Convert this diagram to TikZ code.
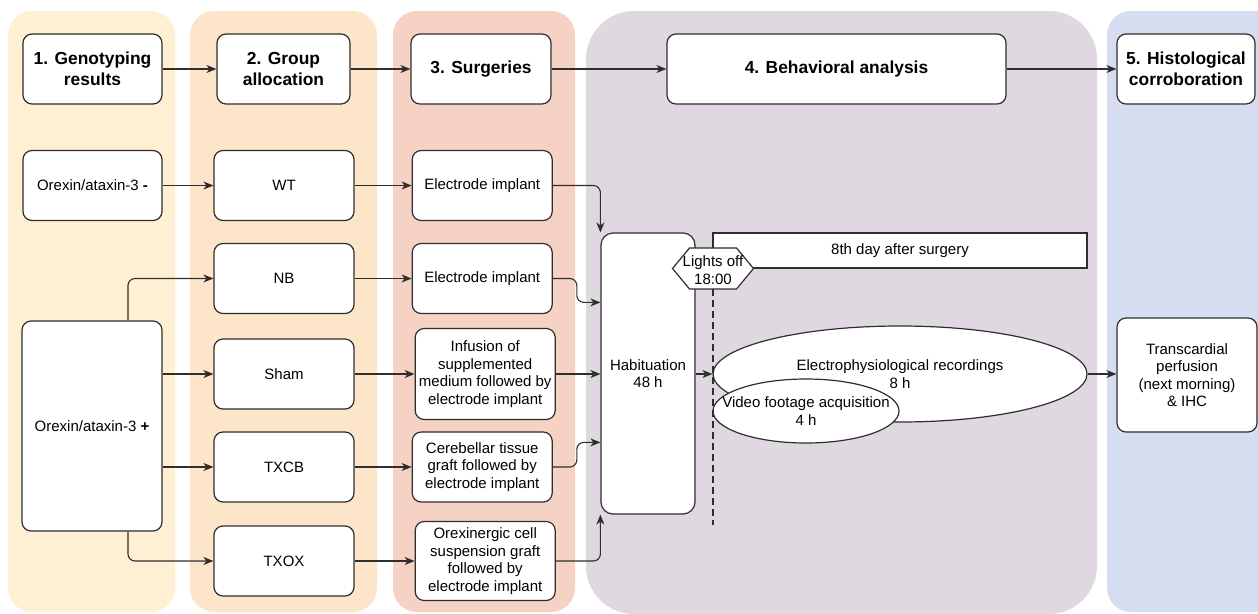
\documentclass[tikz,border=0pt]{standalone}
\usepackage{fontspec}
\setmainfont{Liberation Sans}
\usepackage{tikz}
\usetikzlibrary{shapes.geometric, arrows.meta, positioning, calc}

\definecolor{laneyellow}{HTML}{FFF0D4}
\definecolor{laneorange}{HTML}{FDE5CA}
\definecolor{lanered}{HTML}{F5D2C4}
\definecolor{lanepurple}{HTML}{E0D8E1}
\definecolor{laneblue}{HTML}{D6DDF0}
\definecolor{edgegray}{HTML}{2E2E2E}

\newcommand{\bodyfont}{\fontsize{15pt}{17.5pt}\selectfont}
\newcommand{\headfont}{\fontsize{17.4pt}{21pt}\selectfont\bfseries}

\begin{document}
\begin{tikzpicture}[
  x=1pt, y=-1pt,
  lane/.style={rounded corners=24pt},
  head/.style={draw=edgegray,line width=1.2pt,rounded corners=9pt,fill=white,align=center,font=\headfont,minimum width=140pt,minimum height=70pt,inner sep=2pt},
  block/.style={draw=edgegray,line width=1.2pt,rounded corners=9pt,fill=white,align=center,font=\bodyfont,minimum width=140pt,minimum height=70pt,inner sep=2pt},
  bar/.style={draw=edgegray,line width=1.2pt,fill=white,font=\bodyfont,inner sep=0pt},
  oval/.style={draw=edgegray,line width=1.2pt,ellipse,fill=white,align=center,font=\bodyfont,inner sep=0pt},
  hexa/.style={draw=edgegray,line width=1.2pt,fill=white},
  timeline/.style={draw=edgegray,line width=2pt,dash pattern=on 7pt off 4pt},
  arrow/.style={-{Stealth[length=10pt,width=8pt,inset=3pt]},line width=1.1pt,draw=edgegray,rounded corners=7pt}
]
  \useasboundingbox (0,0) rectangle (1258,613);
  % lanes
  \fill[laneyellow,lane] (8,11) rectangle (175,612);
  \fill[laneorange,lane] (190,11) rectangle (377,612);
  \fill[lanered,lane] (393,11) rectangle (575,612);
  \fill[lanepurple,rounded corners=48pt] (586,11) rectangle (1097,614);
  \fill[laneblue,lane] (1107,11) rectangle (1290,612);

  % headers
  \node[head,minimum width=139pt] (geno) at (92.5,69) {1. Genotyping\\results};
  \node[head,minimum width=133pt] (alloc) at (283.5,69) {2. Group\\allocation};
  \node[head] (surg) at (481,69) {3. Surgeries};
  \node[head,minimum width=339pt] (behav) at (836.5,69) {4. Behavioral analysis};
  \node[head,minimum width=138pt] (histo) at (1186,69) {5. Histological\\corroboration};

  % genotypes and groups
  \node[block,minimum width=139pt] (neg) at (92.5,185.5) {Orexin/ataxin-3 \textbf{-}};
  \node[block,minimum height=210pt] (pos) at (92,426) {Orexin/ataxin-3 \textbf{+}};
  \node[block] (wt) at (284,185.5) {WT};
  \node[block] (nb) at (284,278.5) {NB};
  \node[block] (sham) at (284,374) {Sham};
  \node[block] (txcb) at (284,467) {TXCB};
  \node[block] (txox) at (284,561) {TXOX};

  % surgeries
  \node[block,right=57pt of wt] (implwt) {Electrode implant};
  \node[block,right=57pt of nb] (implnb) {Electrode implant};
  \node[block,right=60pt of sham,minimum height=91pt] (infusion) {Infusion of\\supplemented\\medium followed by\\electrode implant};
  \node[block,right=57pt of txcb] (cereb) {Cerebellar tissue\\graft followed by\\electrode implant};
  \node[block,right=60pt of txox,minimum height=79pt] (orexcell) {Orexinergic cell\\suspension graft\\followed by\\electrode implant};

  % behaviour
  \node[block,minimum width=94pt,minimum height=281pt,rounded corners=12pt] (habit) at (648,373.5) {Habituation\\48 h};
  \node[bar,minimum width=374pt,minimum height=35pt] (day) at (900,250.5) {8th day after surgery};
  \coordinate (lights) at (713,268.5);
  \draw[hexa] ($(lights)+(-40.5,0)$) -- ($(lights)+(-23.5,-20.5)$) -- ($(lights)+(23.5,-20.5)$)
    -- ($(lights)+(40.5,0)$) -- ($(lights)+(23.5,20.5)$) -- ($(lights)+(-23.5,20.5)$) -- cycle;
  \node[font=\bodyfont,align=center,inner sep=0pt] (lightstxt) at (713,270) {Lights off\\18:00};
  \node[oval,minimum width=374pt,minimum height=96pt] (ephys) at (900,374) {Electrophysiological recordings\\8 h};
  \node[oval,minimum width=186pt,minimum height=64pt,
    label={[font=\bodyfont,align=center]center:Video footage acquisition\\4 h}] (video) at (806,411) {};
  \coordinate (lightsbot) at ($(lights)+(0,20.5)$);
  \coordinate (lightsend) at (713,525);
  \draw[timeline] (lightsbot) -- (lightsend);

  % histology
  \node[block,minimum height=114pt] (perf) at (1187,375) {Transcardial\\perfusion\\(next morning)\\\& IHC};

  % arrows
  \draw[arrow] (geno.east) -- (alloc.west);
  \draw[arrow] (alloc.east) -- (surg.west);
  \draw[arrow] (surg.east) -- (behav.west);
  \draw[arrow] (behav.east) -- (histo.west);
  \draw[arrow] (neg.east) -- (wt.west);
  \draw[arrow] ([xshift=36pt]pos.north) |- (nb.west);
  \draw[arrow] (pos.east |- sham) -- (sham.west);
  \draw[arrow] (pos.east |- txcb) -- (txcb.west);
  \draw[arrow] ([xshift=36pt]pos.south) |- (txox.west);
  \draw[arrow] (wt.east) -- (implwt.west);
  \draw[arrow] (nb.east) -- (implnb.west);
  \draw[arrow] (sham.east) -- (infusion.west);
  \draw[arrow] (txcb.east) -- (cereb.west);
  \draw[arrow] (txox.east) -- (orexcell.west);
  \draw[arrow] (implwt.east) -| (habit.north west);
  \draw[arrow] (implnb.east) -- ++(24,0) |- ([yshift=-70pt]habit.north west);
  \draw[arrow] (infusion.east) -- (infusion.east -| habit.west);
  \draw[arrow] (cereb.east) -- ++(24,0) |- ([yshift=-210pt]habit.north west);
  \draw[arrow] (orexcell.east) -| (habit.south west);
  \draw[arrow] (habit.east |- ephys) -- (ephys.west);
  \draw[arrow] (ephys.east) -- (ephys.east -| perf.west);
\end{tikzpicture}
\end{document}
